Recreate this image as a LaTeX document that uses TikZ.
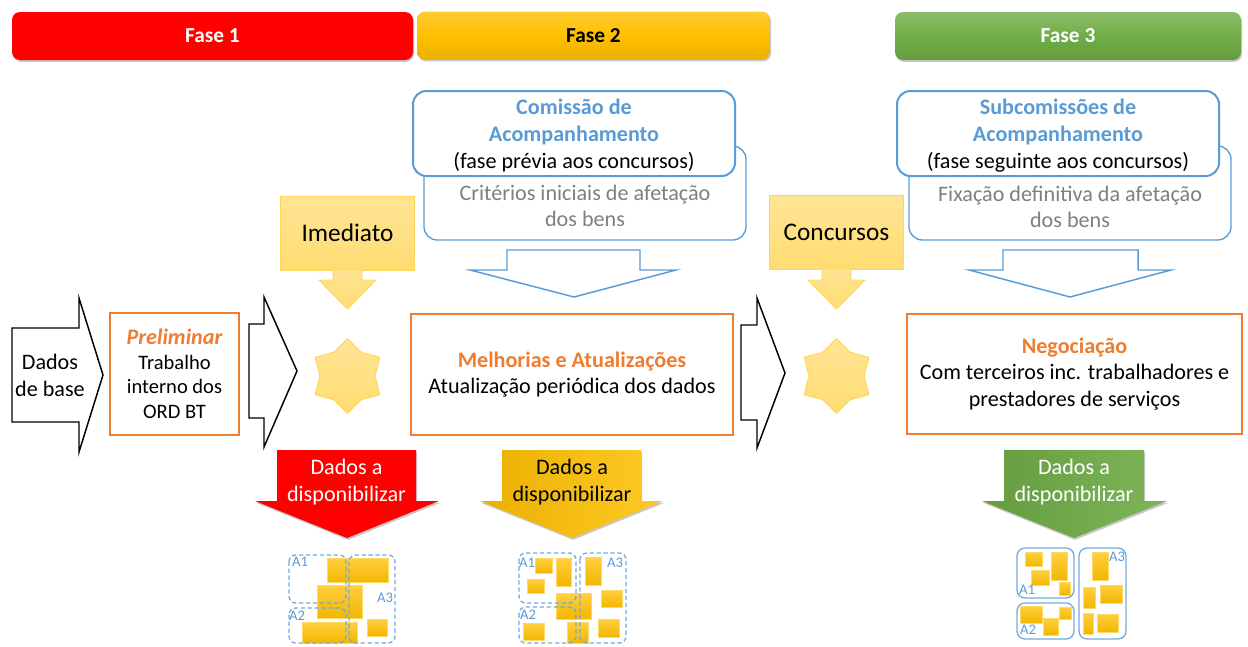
\documentclass[tikz,border=0pt]{standalone}
\usepackage{fontspec}
\setmainfont{Carlito}
\usetikzlibrary{shapes.geometric,shadows}

\definecolor{faseblue}{HTML}{5B9BD5}
\definecolor{faseorange}{HTML}{ED7D31}
\definecolor{fasegray}{HTML}{7F7F7F}
\definecolor{fasegold}{HTML}{FFC000}
\definecolor{fasegreen}{HTML}{70AD47}

\tikzset{
  softshadow/.style={drop shadow={shadow xshift=0.8pt,shadow yshift=-1.4pt,opacity=0.22,fill=black}},
  fasebar/.style={rounded corners=6pt,softshadow,font=\fontsize{16}{19}\selectfont\bfseries,minimum height=36pt,inner sep=0pt},
  txt/.style={align=center,inner sep=0pt,font=\fontsize{16.6}{20}\selectfont},
  bluebox/.style={draw=faseblue,rounded corners=10pt,fill=white},
  hollowarrow/.style={draw=faseblue,line width=1.1pt,fill=white},
  blackarrow/.style={draw=black,line width=1.1pt,fill=white},
  orangebox/.style={draw=faseorange,line width=1.2pt,fill=white,inner sep=0pt,align=center,font=\fontsize{16.6}{20}\selectfont},
  lightgold/.style={draw=fasegold!65,line width=0.7pt,top color=fasegold!42,bottom color=fasegold!55},
  patch/.style={draw=fasegold!60,line width=0.5pt,top color=fasegold!75,bottom color=fasegold!95!black},
  areadash/.style={draw=faseblue!85,line width=1pt,dash pattern=on 3.2pt off 2pt,rounded corners=5pt},
  areasolid/.style={draw=faseblue!85,line width=1pt,rounded corners=6pt},
  arealabel/.style={text=faseblue,inner sep=0pt,font=\fontsize{11}{12}\selectfont}
}

\begin{document}
\begin{tikzpicture}[x=0.75pt,y=-0.75pt]

    % Fix the page to the size of the picture
    \useasboundingbox (0,0) rectangle (1248,646);

    % Phase bars along the top
    \node[fasebar,fill=red,text=white,minimum width=300.75pt] (fase1) at (212.5,36) {Fase 1};
    \node[fasebar,top color=fasegold!80,bottom color=fasegold!92!black,middle color=fasegold,minimum width=264.75pt] (fase2) at (593.5,35.5) {Fase 2};
    \node[fasebar,top color=fasegreen!80,bottom color=fasegreen!90!black,middle color=fasegreen,text=white,minimum width=259.5pt] (fase3) at (1068,36) {Fase 3};

    % Rear boxes, then the committee boxes that overlap them
    \draw[bluebox,line width=1pt] (424,146) rectangle (746,240);
    \node[txt,text=fasegray] (criterios) at (585,206) {Critérios iniciais de afetação\\dos bens};
    \draw[bluebox,line width=1.5pt] (413,91) rectangle (735,176);
    \node[txt] (comissao) at (574,135.5) {\textcolor{faseblue}{\bfseries Comissão de}\\\textcolor{faseblue}{\bfseries Acompanhamento}\\(fase prévia aos concursos)};

    \draw[bluebox,line width=1pt] (909,146) rectangle (1231,240);
    \node[txt,text=fasegray] (fixacao) at (1070,207) {Fixação definitiva da afetação\\dos bens};
    \draw[bluebox,line width=1.5pt] (897,91) rectangle (1219,176);
    \node[txt] (subcomissoes) at (1058,135.5) {\textcolor{faseblue}{\bfseries Subcomissões de}\\\textcolor{faseblue}{\bfseries Acompanhamento}\\(fase seguinte aos concursos)};

    % Hollow arrows under the rear boxes
    \draw[hollowarrow] (507,250) -- (640,250) -- (640,270) -- (676,270) -- (574,297) -- (470,270) -- (507,270) -- cycle;
    \draw[hollowarrow] (1003,250) -- (1138,250) -- (1138,270) -- (1171,270) -- (1070,297) -- (969,270) -- (1003,270) -- cycle;

    % Imediato and Concursos, with their arrows and stars
    \node[lightgold,txt,minimum width=101pt,minimum height=55.5pt,font=\fontsize{19}{22}\selectfont] (imediato) at (347.5,233) {Imediato};
    \draw[lightgold] (333,270) -- (362,270) -- (362,280) -- (376,280) -- (347.5,309) -- (319,280) -- (333,280) -- cycle;
    \node[lightgold,star,star points=6,star point ratio=1.36,minimum size=56pt,inner sep=0pt] (starA) at (347.5,376) {};

    \node[lightgold,txt,minimum width=101pt,minimum height=55.5pt,font=\fontsize{19}{22}\selectfont] (concursos) at (836.5,232) {Concursos};
    \draw[lightgold] (822,269) -- (851,269) -- (851,280) -- (865,280) -- (836.5,309) -- (808,280) -- (822,280) -- cycle;
    \node[lightgold,star,star points=6,star point ratio=1.36,minimum size=56pt,inner sep=0pt] (starB) at (836.5,376) {};

    % Black arrows of the middle row
    \draw[blackarrow] (12,328) -- (79,328) -- (79,298) -- (103,375) -- (79,452) -- (79,422) -- (12,422) -- cycle;
    \node[txt] (dados) at (50,375.5) {Dados\\de base};
    \draw[blackarrow] (249,324) -- (264,324) -- (264,297) -- (297,371) -- (264,447) -- (264,418) -- (249,418) -- cycle;
    \draw[blackarrow] (741,325) -- (757,325) -- (757,298) -- (785,373) -- (757,448) -- (757,420) -- (741,420) -- cycle;

    % Orange boxes of the middle row
    \node[orangebox,minimum width=96.75pt,minimum height=91.5pt,font=\fontsize{15.4}{18.4}\selectfont] (preliminar) at (174.5,374) {\textcolor{faseorange}{\fontsize{16.6}{18.4}\selectfont\bfseries\itshape Preliminar}\\Trabalho\\interno dos\\ORD BT};
    \node[orangebox,minimum width=241.5pt,minimum height=90.75pt] (melhorias) at (572,374.5) {\textcolor{faseorange}{\bfseries Melhorias e Atualizações}\\Atualização periódica dos dados};
    \node[orangebox,minimum width=251.25pt,minimum height=90pt] (negociacao) at (1074.5,374) {\textcolor{faseorange}{\bfseries Negociação}\\Com terceiros inc. trabalhadores e\\prestadores de serviços};

    % Data arrows
    \path[softshadow,fill=red] (277,450) -- (416,450) -- (416,501) -- (439,501) -- (347,538) -- (255,501) -- (277,501) -- cycle;
    \node[txt,text=white] (dadosA) at (346.5,482) {Dados a\\disponibilizar};
    \path[softshadow,left color=fasegold!92!black,right color=fasegold!85] (502,450) -- (641,450) -- (641,501) -- (663,501) -- (572,538) -- (480,501) -- (502,501) -- cycle;
    \node[txt] (dadosB) at (572,482) {Dados a\\disponibilizar};
    \path[softshadow,left color=fasegreen!90!black,right color=fasegreen!90] (1004,450) -- (1144,450) -- (1144,501) -- (1167,501) -- (1074,538) -- (982,501) -- (1004,501) -- cycle;
    \node[txt,text=white] (dadosC) at (1074,482) {Dados a\\disponibilizar};

    % Small map under Fase 1
    \foreach \xa/\ya/\xb/\yb in {327/558/388/582,317/585/362/618,302/622/357/643,367/619/387/636}
        \draw[patch] (\xa,\ya) rectangle (\xb,\yb);
    \draw[areadash] (289,555) rectangle (346,603);
    \draw[areadash] (349,555) rectangle (395,643);
    \draw[areadash] (289,608) rectangle (346,643);
    \node[arealabel] (mapAa) at (300,562) {A1};
    \node[arealabel] (mapAb) at (297,616) {A2};
    \node[arealabel] (mapAc) at (385,598) {A3};

    % Small map under Fase 2
    \foreach \xa/\ya/\xb/\yb in {535/558/552/573,556/558/571/586,527/579/544/593,585/557/601/585,601/590/622/607,556/593/591/619,567/622/588/643,523/623/544/640,598/619/619/637}
        \draw[patch] (\xa,\ya) rectangle (\xb,\yb);
    \draw[areadash] (519,553) rectangle (576,603);
    \draw[areadash] (580,553) rectangle (626,643);
    \draw[areadash] (519,607) rectangle (576,643);
    \node[arealabel] (mapBa) at (527,563) {A1};
    \node[arealabel] (mapBb) at (528,615) {A2};
    \node[arealabel] (mapBc) at (615,563) {A3};

    % Small map under Fase 3
    \foreach \xa/\ya/\xb/\yb in {1025/552/1042/566,1051/552/1067/580,1031/570/1049/585,1059/582/1070/595,1092/552/1108/580,1100/585/1122/603,1083/587/1095/608,1083/613/1093/634,1097/614/1118/632,1020/606/1042/623,1059/607/1071/619,1043/618/1058/635}
        \draw[patch] (\xa,\ya) rectangle (\xb,\yb);
    \draw[areasolid] (1017,548) rectangle (1074,598);
    \draw[areasolid] (1079,548) rectangle (1126,639);
    \draw[areasolid] (1017,603) rectangle (1074,639);
    \node[arealabel] (mapCa) at (1027,590) {A1};
    \node[arealabel] (mapCb) at (1028,630) {A2};
    \node[arealabel] (mapCc) at (1117,557) {A3};

\end{tikzpicture}
\end{document}
